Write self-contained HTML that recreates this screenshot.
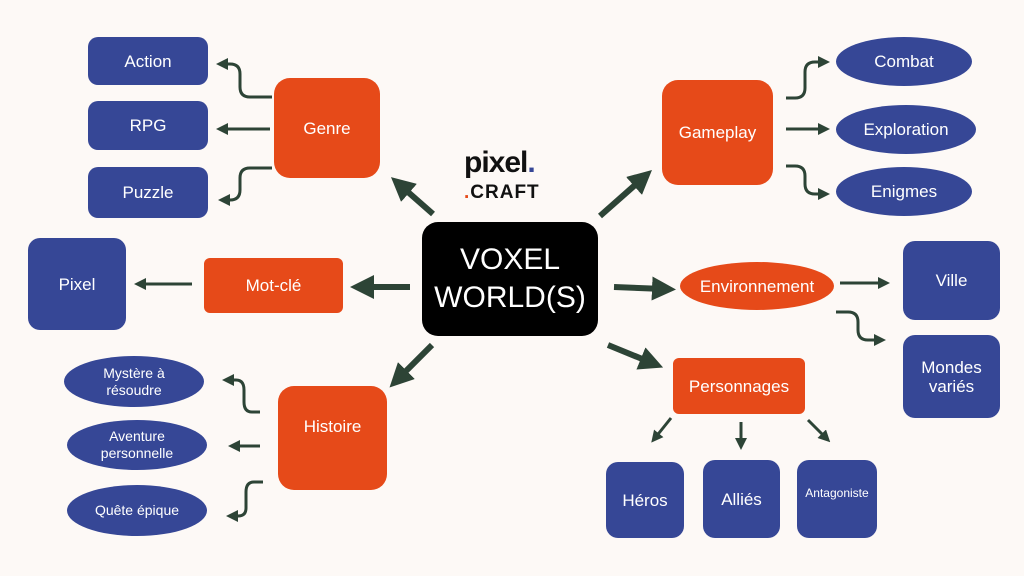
<!DOCTYPE html>
<html><head><meta charset="utf-8"><style>
body{margin:0;width:1024px;height:576px;background:#fdf9f6;position:relative;overflow:hidden;font-family:"Liberation Sans",sans-serif;}
.n{position:absolute;display:flex;align-items:center;justify-content:center;text-align:center;color:#fff;font-size:17px;line-height:19px;box-sizing:border-box;}
.b{background:#364796;border-radius:10px;}
.o{background:#e64a19;border-radius:12px;}
.e{background:#364796;border-radius:50%;}
svg{position:absolute;left:0;top:0;}
</style></head><body>
<svg width="1024" height="576">
<defs>
<marker id="a" markerWidth="4" markerHeight="4" refX="2" refY="2" orient="auto"><path d="M0,0 L4,2 L0,4 z" fill="#2d4436"/></marker>
<marker id="s" markerWidth="4" markerHeight="4" refX="2" refY="2" orient="auto"><path d="M0,0 L4,2 L0,4 z" fill="#2d4436"/></marker>
</defs>
<g stroke="#2d4436" stroke-width="6" fill="none" marker-end="url(#a)">
<line x1="433" y1="214" x2="400" y2="185"/>
<line x1="600" y1="216" x2="643" y2="178"/>
<line x1="410" y1="287" x2="362" y2="287"/>
<line x1="614" y1="287" x2="664" y2="289"/>
<line x1="432" y1="345" x2="398" y2="379"/>
<line x1="608" y1="345" x2="652" y2="363"/>
</g>
<g stroke="#2d4436" stroke-width="3" fill="none" marker-end="url(#s)">
<path d="M272,97 H250 Q240,97 240,87 V74 Q240,64 230,64 H222"/>
<path d="M270,129 H222"/>
<path d="M272,168 H250 Q240,168 240,178 V190 Q240,200 230,200 H224"/>
<path d="M192,284 H140"/>
<path d="M786,98 H795 Q805,98 805,88 V72 Q805,62 815,62 H824"/>
<path d="M786,129 H824"/>
<path d="M786,166 H795 Q805,166 805,176 V184 Q805,194 815,194 H824"/>
<path d="M840,283 H884"/>
<path d="M836,312 H848 Q858,312 858,322 V330 Q858,340 868,340 H880"/>
<path d="M260,412 H252 Q244,412 244,402 V390 Q244,380 236,380 H228"/>
<path d="M260,446 H234"/>
<path d="M263,482 H254 Q246,482 246,492 V508 Q246,516 238,516 H232"/>
<path d="M671,418 L655,438"/>
<path d="M741,422 L741,444"/>
<path d="M808,420 L826,438"/>
</g>
</svg>
<div class="n b" style="left:88px;top:37px;width:120px;height:48px">Action</div>
<div class="n b" style="left:88px;top:101px;width:120px;height:49px">RPG</div>
<div class="n b" style="left:88px;top:167px;width:120px;height:51px">Puzzle</div>
<div class="n o" style="left:274px;top:78px;width:106px;height:100px;border-radius:16px">Genre</div>
<div class="n o" style="left:662px;top:80px;width:111px;height:105px;border-radius:16px">Gameplay</div>
<div class="n e" style="left:836px;top:37px;width:136px;height:49px">Combat</div>
<div class="n e" style="left:836px;top:105px;width:140px;height:49px">Exploration</div>
<div class="n e" style="left:836px;top:167px;width:136px;height:49px">Enigmes</div>
<div style="position:absolute;left:464px;top:150px;font-weight:bold;color:#111;font-size:30px;line-height:26px;letter-spacing:-1px">pixel<span style="color:#364796">.</span><br><span style="font-size:19px;font-weight:900;letter-spacing:1px;line-height:22px"><span style="color:#e64a19">.</span>CRAFT</span></div>
<div class="n" style="left:422px;top:222px;width:176px;height:114px;background:#000;border-radius:16px;font-size:30px;line-height:38px">VOXEL<br>WORLD(S)</div>
<div class="n b" style="left:28px;top:238px;width:98px;height:92px;border-radius:12px">Pixel</div>
<div class="n o" style="left:204px;top:258px;width:139px;height:55px;border-radius:6px">Mot-clé</div>
<div class="n" style="left:680px;top:262px;width:154px;height:48px;background:#e64a19;border-radius:50%">Environnement</div>
<div class="n b" style="left:903px;top:241px;width:97px;height:79px;border-radius:12px">Ville</div>
<div class="n b" style="left:903px;top:335px;width:97px;height:83px;border-radius:12px">Mondes<br>variés</div>
<div class="n o" style="left:673px;top:358px;width:132px;height:56px;border-radius:6px">Personnages</div>
<div class="n o" style="left:278px;top:386px;width:109px;height:104px;border-radius:16px;padding-bottom:24px">Histoire</div>
<div class="n e" style="left:64px;top:356px;width:140px;height:51px;font-size:14px;line-height:17px">Mystère à<br>résoudre</div>
<div class="n e" style="left:67px;top:420px;width:140px;height:50px;font-size:14px;line-height:17px">Aventure<br>personnelle</div>
<div class="n e" style="left:67px;top:485px;width:140px;height:51px;font-size:14px">Quête épique</div>
<div class="n b" style="left:606px;top:462px;width:78px;height:76px;border-radius:12px">Héros</div>
<div class="n b" style="left:703px;top:460px;width:77px;height:78px;border-radius:12px">Alliés</div>
<div class="n b" style="left:797px;top:460px;width:80px;height:78px;border-radius:12px;font-size:12px;padding-bottom:12px">Antagoniste</div>
</body></html>
